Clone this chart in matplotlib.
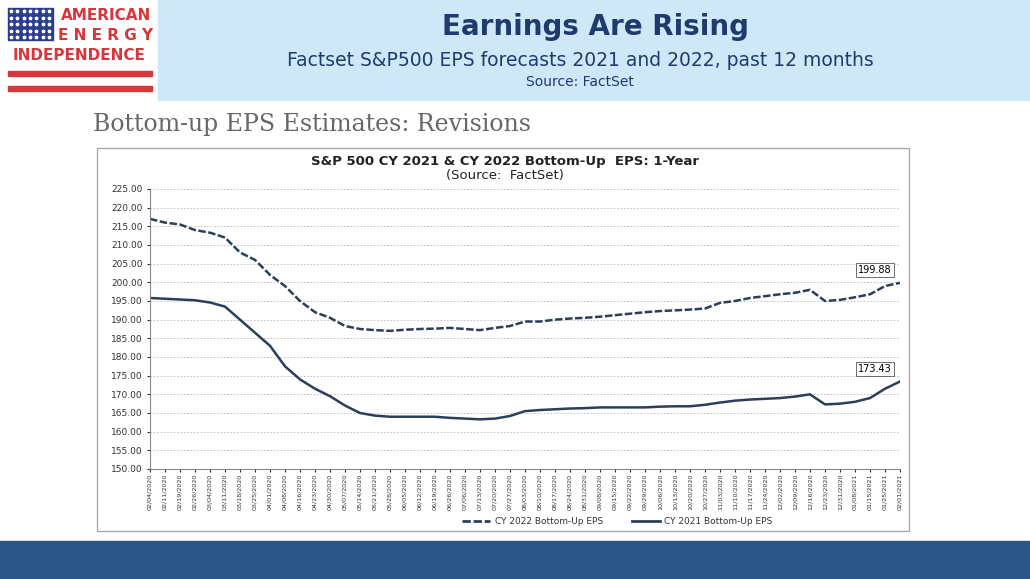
import matplotlib.pyplot as plt
from matplotlib.patches import Rectangle

# --- Daten (wöchentlich) ---
dates = ["02/04/2020", "02/11/2020", "02/19/2020", "02/26/2020", "03/04/2020", "03/11/2020",
         "03/18/2020", "03/25/2020", "04/01/2020", "04/08/2020", "04/16/2020", "04/23/2020",
         "04/30/2020", "05/07/2020", "05/14/2020", "05/21/2020", "05/28/2020", "06/05/2020",
         "06/12/2020", "06/19/2020", "06/26/2020", "07/06/2020", "07/13/2020", "07/20/2020",
         "07/27/2020", "08/03/2020", "08/10/2020", "08/17/2020", "08/24/2020", "08/31/2020",
         "09/08/2020", "09/15/2020", "09/22/2020", "09/29/2020", "10/06/2020", "10/13/2020",
         "10/20/2020", "10/27/2020", "11/03/2020", "11/10/2020", "11/17/2020", "11/24/2020",
         "12/02/2020", "12/09/2020", "12/16/2020", "12/23/2020", "12/31/2020", "01/08/2021",
         "01/15/2021", "01/25/2021", "02/01/2021"]
eps_2022 = [217, 216, 215.5, 214, 213.3, 212, 208, 206, 202, 199, 195, 192, 190.5, 188.3,
            187.5, 187.2, 187, 187.3, 187.5, 187.6, 187.8, 187.5, 187.2, 187.8, 188.3, 189.5,
            189.5, 190, 190.3, 190.5, 190.8, 191.2, 191.6, 192, 192.3, 192.5, 192.7, 193,
            194.5, 195, 195.8, 196.3, 196.8, 197.2, 198, 195, 195.3, 196, 196.8, 199, 199.88]
eps_2021 = [195.8, 195.6, 195.4, 195.2, 194.6, 193.5, 190, 186.5, 183, 177.5, 174, 171.5,
            169.5, 167, 165, 164.3, 164, 164, 164, 164, 163.7, 163.5, 163.3, 163.5, 164.2,
            165.5, 165.8, 166, 166.2, 166.3, 166.5, 166.5, 166.5, 166.5, 166.7, 166.8, 166.8,
            167.2, 167.8, 168.3, 168.6, 168.8, 169, 169.4, 170, 167.3, 167.5, 168, 169,
            171.5, 173.43]
y_ticks = [150 + 5 * i for i in range(16)]

W, H = 1030, 579
fig = plt.figure(figsize=(W / 100, H / 100), dpi=100)
bg = fig.add_axes([0, 0, 1, 1])
bg.set_xlim(0, W)
bg.set_ylim(H, 0)
bg.axis('off')

# Kopfzeile
bg.add_patch(Rectangle((158, 0), W - 158, 100, color='#cfe8f7'))
bg.text(595, 27, 'Earnings Are Rising', ha='center', va='center', fontsize=20,
        fontweight='bold', color='#1f3b6e')
bg.text(580, 61, 'Factset S&P500 EPS forecasts 2021 and 2022, past 12 months', ha='center',
        va='center', fontsize=13.5, color='#1f3b6e')
bg.text(580, 82, 'Source: FactSet', ha='center', va='center', fontsize=10, color='#1f3b6e')

# Logo
bg.add_patch(Rectangle((8, 8), 45, 32, color='#2a3d8f'))
for i in range(5):
    for j in range(7):
        bg.plot(11 + j * 6.3, 11 + i * 6.5, marker='*', ms=2.5, color='white', lw=0)
bg.text(106, 16, 'AMERICAN', ha='center', va='center', fontsize=11, fontweight='bold', color='#d7363b')
bg.text(106, 36, 'E N E R G Y', ha='center', va='center', fontsize=11, fontweight='bold', color='#d7363b')
bg.text(79, 56, 'INDEPENDENCE', ha='center', va='center', fontsize=11, fontweight='bold', color='#d7363b')
bg.add_patch(Rectangle((8, 71), 144, 5, color='#d7363b'))
bg.add_patch(Rectangle((8, 86), 144, 5, color='#d7363b'))

# Fußzeile
bg.add_patch(Rectangle((0, 541), W, 38, color='#2c5686'))

bg.text(93, 124, 'Bottom-up EPS Estimates: Revisions', ha='left', va='center', fontsize=17,
        family='DejaVu Serif', color='#666666')

# Chart-Rahmen
bg.add_patch(Rectangle((97, 148), 812, 383, fill=False, ec='#aaaaaa', lw=1))
bg.text(505, 161, 'S&P 500 CY 2021 & CY 2022 Bottom-Up  EPS: 1-Year', ha='center', va='center',
        fontsize=9.5, fontweight='bold', color='#222222')
bg.text(505, 176, '(Source:  FactSet)', ha='center', va='center', fontsize=9.5, color='#222222')

ax = fig.add_axes([150 / W, 1 - 469 / H, 750 / W, 280 / H])
x = range(len(dates))
ax.plot(x, eps_2022, color='#2b3e5c', lw=1.8, ls=(0, (3, 1)))
ax.plot(x, eps_2021, color='#2b3e5c', lw=1.8)
ax.set_xlim(0, len(dates) - 1)
ax.set_ylim(150, 225)
ax.set_yticks(y_ticks)
ax.set_yticklabels([f'{v:.2f}' for v in y_ticks], fontsize=6.5)
ax.set_xticks(list(x))
ax.set_xticklabels(dates, rotation=90, fontsize=4.6)
ax.tick_params(length=2, colors='#333333')
ax.tick_params(axis='x', pad=1.5)
ax.grid(axis='y', ls=(0, (2, 2)), color='#bbbbbb', lw=0.6)
for s in ['top', 'right']:
    ax.spines[s].set_visible(False)
for s in ['left', 'bottom']:
    ax.spines[s].set_color('#888888')

for val in (eps_2022[-1], eps_2021[-1]):
    ax.annotate(f'{val:.2f}', xy=(len(dates) - 1, val), xytext=(-18, 9), textcoords='offset points',
                ha='center', va='center', fontsize=7,
                bbox=dict(boxstyle='square,pad=0.2', fc='white', ec='#555555', lw=0.6))

bg.plot([462, 490], [521, 521], color='#2b3e5c', lw=2, ls=(0, (3, 1)))
bg.text(495, 521, 'CY 2022 Bottom-Up EPS', va='center', fontsize=6.5, color='#333333')
bg.plot([632, 660], [521, 521], color='#2b3e5c', lw=2)
bg.text(664, 521, 'CY 2021 Bottom-Up EPS', va='center', fontsize=6.5, color='#333333')

fig.savefig('out.png', dpi=100)
